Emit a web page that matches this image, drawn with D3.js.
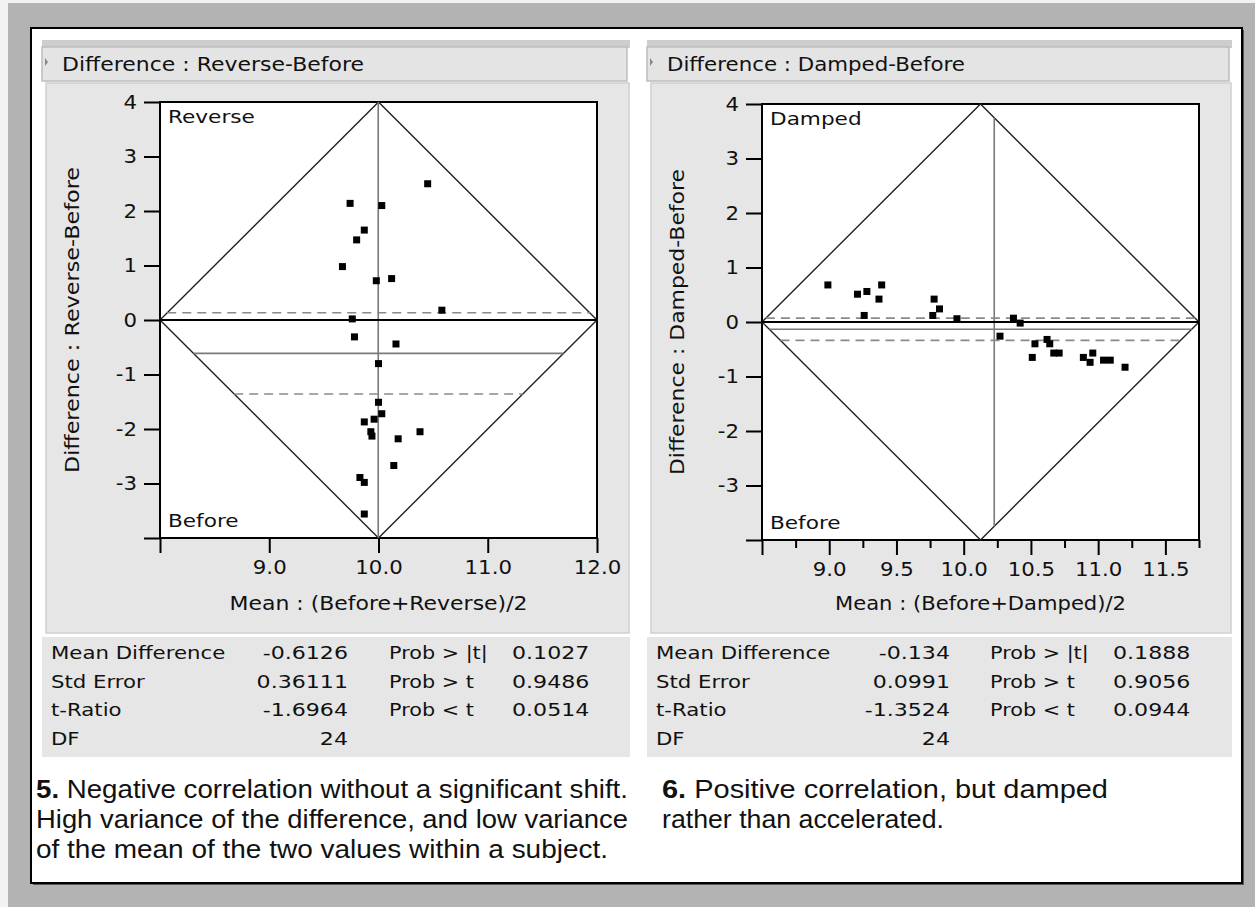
<!DOCTYPE html>
<html>
<head>
<meta charset="utf-8">
<script src="https://cdn.jsdelivr.net/npm/d3@7.9.0/dist/d3.min.js"></script>
<style>
  body { margin: 0; background: #f2f2f2; }
  svg { display: block; }
</style>
</head>
<body>
<svg id="chart" width="1255" height="907"></svg>
<script>
// data (25 subjects each)
const reverseMean = [10.45, 9.74, 10.03, 9.87, 9.80, 9.67, 9.98, 10.12, 10.58, 9.76, 9.78, 10.16, 10.00,
                     10.00, 10.03, 9.96, 9.87, 9.93, 9.94, 10.38, 10.18, 10.14, 9.83, 9.87, 9.87];
const reverseDiff = [2.50, 2.14, 2.10, 1.65, 1.47, 0.98, 0.72, 0.76, 0.18, 0.02, -0.31, -0.44, -0.80,
                     -1.51, -1.72, -1.82, -1.87, -2.05, -2.13, -2.05, -2.18, -2.67, -2.89, -2.98, -3.56];
const dampedMean = [8.99, 9.21, 9.28, 9.39, 9.37, 9.26, 9.78, 9.82, 9.77, 9.95, 10.37, 10.42, 10.27,
                    10.53, 10.62, 10.64, 10.51, 10.67, 10.71, 10.89, 10.96, 10.94, 11.04, 11.09, 11.20];
const dampedDiff = [0.68, 0.51, 0.56, 0.68, 0.42, 0.12, 0.42, 0.24, 0.12, 0.06, 0.07, -0.02, -0.26,
                    -0.40, -0.32, -0.40, -0.65, -0.57, -0.57, -0.65, -0.57, -0.74, -0.70, -0.70, -0.83];

const statNames = ["Mean Difference", "Std Error", "t-Ratio", "DF"];
const probNames = ["Prob > |t|", "Prob > t", "Prob < t"];
const reverseStats = ["-0.6126", "0.36111", "-1.6964", "24"];
const reverseProbs = ["0.1027", "0.9486", "0.0514"];
const dampedStats = ["-0.134", "0.0991", "-1.3524", "24"];
const dampedProbs = ["0.1888", "0.9056", "0.0944"];

const yTicks = [-4, -3, -2, -1, 0, 1, 2, 3, 4];
const reverseXTicks = [8, 9, 10, 11, 12];
const dampedXTicks = [8.5, 9, 9.5, 10, 10.5, 11, 11.5];
const dampedXMinor = [8.75, 9.25, 9.75, 10.25, 10.75, 11.25, 11.75];

const caption5 = ["Negative correlation without a significant shift.",
                  "High variance of the difference, and low variance",
                  "of the mean of the two values within a subject."];
const caption6 = ["Positive correlation, but damped",
                  "rather than accelerated."];

const tCrit = 2.0639; // t(.975, 24 df)
const font = "'DejaVu Sans', Verdana, sans-serif";

const svg = d3.select("#chart");

// outer grey window + white page
svg.append("rect").attr("x", 8).attr("y", 3).attr("width", 1247).attr("height", 904).attr("fill", "#b3b3b3");
svg.append("rect").attr("x", 33).attr("y", 30).attr("width", 1211).attr("height", 855).attr("fill", "#555");
svg.append("rect").attr("x", 31).attr("y", 28).attr("width", 1211).attr("height", 855)
  .attr("fill", "#fff").attr("stroke", "#000").attr("stroke-width", 2);

function txt(g, x, y, s, size, opts = {}) {
  const t = g.append("text").attr("x", x).attr("y", y).text(s)
    .attr("font-family", opts.family || font).attr("font-size", size)
    .attr("fill", "#111").attr("text-anchor", opts.anchor || "start");
  if (opts.weight) t.attr("font-weight", opts.weight);
  if (opts.width) t.attr("textLength", opts.width).attr("lengthAdjust", "spacingAndGlyphs");
  else if (opts.widen) widen(t, opts.widen);
  return t;
}

// the old bitmap font is wider than DejaVu, stretch a little
function widen(sel, k) {
  sel.each(function () {
    const len = this.getComputedTextLength();
    if (len > 0) d3.select(this).attr("textLength", len * k).attr("lengthAdjust", "spacingAndGlyphs");
  });
}

function drawPanel(p) {
  const g = svg.append("g");
  const bx0 = p.box[0], bx1 = p.box[1];

  // panel background pieces
  g.append("rect").attr("x", bx0).attr("y", 40).attr("width", bx1 - bx0).attr("height", 8).attr("fill", "#cdcdcd");
  g.append("rect").attr("x", bx0).attr("y", 47).attr("width", bx1 - bx0 - 3).attr("height", 34)
    .attr("fill", "#e4e4e4").attr("stroke", "#bdbdbd").attr("stroke-width", 1.5);
  g.append("rect").attr("x", bx0 + 4).attr("y", 83).attr("width", bx1 - bx0 - 5).attr("height", 550)
    .attr("fill", "#e6e6e6").attr("stroke", "#cfcfcf").attr("stroke-width", 1.5);
  g.append("rect").attr("x", bx0).attr("y", 637).attr("width", bx1 - bx0).attr("height", 120).attr("fill", "#e6e6e6");
  g.append("path").attr("d", `M${bx0 + 3},58 l3,4 l-3,4 z`).attr("fill", "#888");

  txt(g, bx0 + 20, 71, p.header, 19, { width: p.headerW });

  const x = d3.scaleLinear().domain(p.xDomain).range(p.xRange);
  const y = d3.scaleLinear().domain([-4, 4]).range(p.yRange);

  // plot frame
  g.append("rect").attr("x", p.xRange[0]).attr("y", p.yRange[1])
    .attr("width", p.xRange[1] - p.xRange[0]).attr("height", p.yRange[0] - p.yRange[1])
    .attr("fill", "#fff").attr("stroke", "#000").attr("stroke-width", 2);

  // axes
  const yAxis = d3.axisLeft(y).tickValues(yTicks).tickSize(16).tickSizeOuter(0).tickPadding(7)
    .tickFormat(d => d === -4 ? "" : String(d));
  const ya = g.append("g").attr("transform", `translate(${p.xRange[0]},0)`).call(yAxis);
  const xAxis = d3.axisBottom(x).tickValues(p.xTicks).tickSize(15).tickSizeOuter(0).tickPadding(8)
    .tickFormat(d => d === p.xDomain[0] ? "" : d3.format(".1f")(d));
  const xa = g.append("g").attr("transform", `translate(0,${p.yRange[0]})`).call(xAxis);
  if (p.xMinor) {
    const xm = d3.axisBottom(x).tickValues(p.xMinor).tickSize(8).tickSizeOuter(0).tickFormat("");
    const m = g.append("g").attr("transform", `translate(0,${p.yRange[0]})`).call(xm);
    m.select(".domain").remove();
    m.selectAll("line").attr("stroke", "#000").attr("stroke-width", 2);
  }
  [ya, xa].forEach(a => {
    a.select(".domain").remove();
    a.selectAll("line").attr("stroke", "#000").attr("stroke-width", 2);
    a.selectAll("text").attr("font-family", font).attr("font-size", 19).attr("fill", "#111");
    widen(a.selectAll("text"), 1.12);
  });

  // diamond of the original axes
  const xMid = (p.xDomain[0] + p.xDomain[1]) / 2;
  const half = (p.xDomain[1] - p.xDomain[0]) / 2;
  const diamond = [[p.xDomain[0], 0], [xMid, 4], [p.xDomain[1], 0], [xMid, -4], [p.xDomain[0], 0]];
  const line = d3.line().x(d => x(d[0])).y(d => y(d[1]));
  g.append("path").attr("d", line(diamond)).attr("fill", "none").attr("stroke", "#222").attr("stroke-width", 1.4);

  const hLine = (v) => {
    const w = half * (1 - Math.abs(v) / 4);
    return [[xMid - w, v], [xMid + w, v]];
  };

  // mean of means (vertical)
  const mx = d3.mean(p.means);
  const hh = 4 * (1 - Math.abs(mx - xMid) / half);
  g.append("path").attr("d", line([[mx, -hh], [mx, hh]]))
    .attr("stroke", "#7a7a7a").attr("stroke-width", 1.6);

  // zero line
  g.append("path").attr("d", line([[p.xDomain[0], 0], [p.xDomain[1], 0]]))
    .attr("stroke", "#000").attr("stroke-width", 2);

  // mean difference and its 95% CI
  const md = +p.stats[0], se = +p.stats[1];
  g.append("path").attr("d", line(hLine(md))).attr("stroke", "#7a7a7a").attr("stroke-width", 1.6);
  [md - tCrit * se, md + tCrit * se].forEach(v => {
    g.append("path").attr("d", line(hLine(v))).attr("stroke", "#8a8a8a")
      .attr("stroke-width", 1.7).attr("stroke-dasharray", "9,6");
  });

  // points
  g.selectAll("rect.pt").data(p.means.map((m, i) => [m, p.diffs[i]])).join("rect")
    .attr("class", "pt")
    .attr("x", d => x(d[0]) - 3.5).attr("y", d => y(d[1]) - 3.5)
    .attr("width", 7).attr("height", 7).attr("fill", "#000");

  // corner labels
  txt(g, p.xRange[0] + 8, p.yRange[1] + 21, p.topLabel, 18, { widen: 1.2 });
  txt(g, p.xRange[0] + 8, p.yRange[0] - 11, "Before", 18, { widen: 1.2 });

  // axis titles
  txt(g, (p.xRange[0] + p.xRange[1]) / 2, 610, p.xTitle, 19, { anchor: "middle", width: p.xTitleW });
  txt(g, 0, 0, p.header, 19, { anchor: "middle", width: 306 })
    .attr("transform", `translate(${bx0 + 37},${(p.yRange[0] + p.yRange[1]) / 2}) rotate(-90)`);

  // stats table
  const rows = [659, 688, 716, 745];
  statNames.forEach((s, i) => {
    txt(g, bx0 + 9, rows[i], s, 17, { widen: 1.25 });
    txt(g, bx0 + p.valRight, rows[i], p.stats[i], 17, { anchor: "end", widen: 1.3 });
  });
  probNames.forEach((s, i) => {
    txt(g, bx0 + p.probX, rows[i], s, 17, { widen: 1.22 });
    txt(g, bx0 + p.probX + 123, rows[i], p.probs[i], 17, { widen: 1.3 });
  });

  // caption
  p.caption.forEach((c, i) => {
    const t = txt(g, p.capX, 798 + i * 30, "", 25,
      { family: "'Liberation Sans', Arial, sans-serif", width: p.capW[i] });
    if (i === 0) t.append("tspan").attr("font-weight", "bold").text(p.capNum + "  ");
    t.append("tspan").text(c);
  });
}

drawPanel({
  box: [42, 630], header: "Difference : Reverse-Before", headerW: 302,
  xDomain: [8, 12], xRange: [160, 597], yRange: [538, 102],
  xTicks: reverseXTicks, means: reverseMean, diffs: reverseDiff,
  topLabel: "Reverse", xTitle: "Mean : (Before+Reverse)/2", xTitleW: 298,
  stats: reverseStats, probs: reverseProbs, valRight: 306, probX: 347,
  caption: caption5, capNum: "5.", capX: 36, capW: [592, 592, 572]
});
drawPanel({
  box: [647, 1232], header: "Difference : Damped-Before", headerW: 298,
  xDomain: [8.5, 11.75], xRange: [762, 1199], yRange: [540, 104],
  xTicks: dampedXTicks, xMinor: dampedXMinor, means: dampedMean, diffs: dampedDiff,
  topLabel: "Damped", xTitle: "Mean : (Before+Damped)/2", xTitleW: 291,
  stats: dampedStats, probs: dampedProbs, valRight: 303, probX: 343,
  caption: caption6, capNum: "6.", capX: 662, capW: [446, 282]
});
</script>
</body>
</html>
